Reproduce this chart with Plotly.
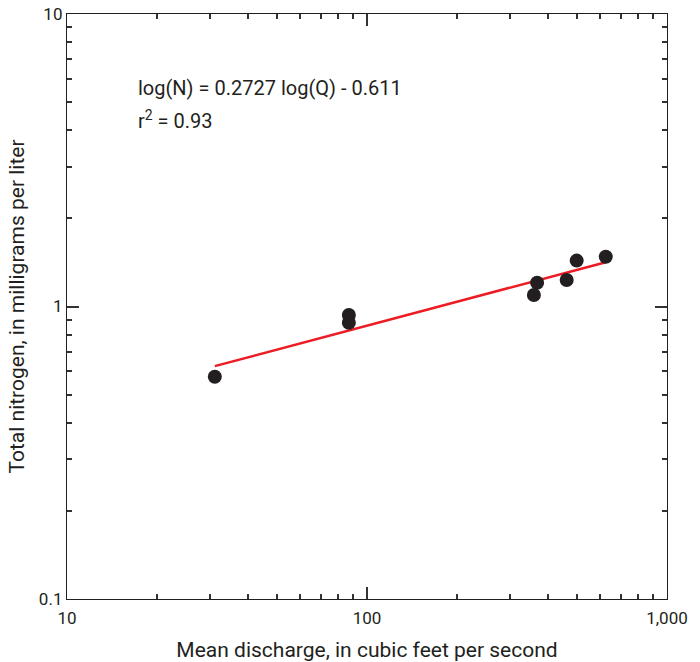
import plotly.graph_objects as go
import numpy as np

# Data
discharge = [31.1, 87.0, 87.0, 360, 369, 463, 500, 625]
nitrogen = [0.575, 0.935, 0.88, 1.095, 1.206, 1.232, 1.435, 1.48]

# Regression coefficients (from the chart annotation)
slope = 0.2727
intercept = -0.611
fit_q = [min(discharge), max(discharge)]
fit_n = [10 ** (slope * np.log10(q) + intercept) for q in fit_q]

x_major = [10, 100, 1000]
x_major_text = ["10", "100", "1,000"]
y_major = [0.1, 1, 10]
y_major_text = ["0.1", "1", "10"]
x_minor = [m * d for d in (10, 100) for m in range(2, 10)]
y_minor = [m * d for d in (0.1, 1) for m in range(2, 10)]

FONT = "Roboto, Liberation Sans, sans-serif"
TXT = "#231f20"
TICK = "#333333"

fig = go.Figure()
fig.add_trace(go.Scatter(x=fit_q, y=fit_n, mode="lines",
                         line=dict(color="#ed1c24", width=2.5), hoverinfo="skip"))
fig.add_trace(go.Scatter(x=discharge, y=nitrogen, mode="markers",
                         marker=dict(color="#231f20", size=14, line=dict(width=0))))

common = dict(type="log", tickmode="array", ticks="inside", ticklen=12, tickwidth=1.5,
              tickcolor=TICK, showline=True, linecolor=TXT, linewidth=1.3,
              mirror="ticks", showgrid=False, zeroline=False, automargin=False,
              tickfont=dict(family=FONT, size=17, color=TXT))

fig.update_layout(
    xaxis=dict(**common, range=[1, 3], tickvals=x_major, ticktext=x_major_text,
               ticklabelstandoff=3,
               minor=dict(ticks="inside", ticklen=5, tickwidth=1.5, tickcolor=TICK,
                          tickvals=x_minor, showgrid=False),
               title=dict(text="Mean discharge, in cubic feet per second",
                          font=dict(family=FONT, size=21, color=TXT), standoff=16)),
    yaxis=dict(**common, range=[-1, 1], tickvals=y_major, ticktext=y_major_text,
               minor=dict(ticks="inside", ticklen=5, tickwidth=1.5, tickcolor=TICK,
                          tickvals=y_minor, showgrid=False),
               title=dict(text="Total nitrogen, in milligrams per liter",
                          font=dict(family=FONT, size=21, color=TXT), standoff=8)),
)

fig.add_annotation(xref="paper", yref="paper", x=0.115, y=0.873, xanchor="left",
                   yanchor="middle", showarrow=False,
                   text="log(N) = 0.2727 log(Q) - 0.611",
                   font=dict(family=FONT, size=20, color=TXT))
fig.add_annotation(xref="paper", yref="paper", x=0.115, y=0.819, xanchor="left",
                   yanchor="middle", showarrow=False,
                   text="r<sup>2</sup> = 0.93",
                   font=dict(family=FONT, size=20, color=TXT))

fig.update_layout(width=700, height=662, showlegend=False,
                  margin=dict(l=67, r=33, t=14, b=63),
                  plot_bgcolor="white", paper_bgcolor="white")

fig.write_html("out.html", config={"displayModeBar": False},
               post_script="document.body.style.margin='0';"
                           "document.body.style.overflow='hidden';")
